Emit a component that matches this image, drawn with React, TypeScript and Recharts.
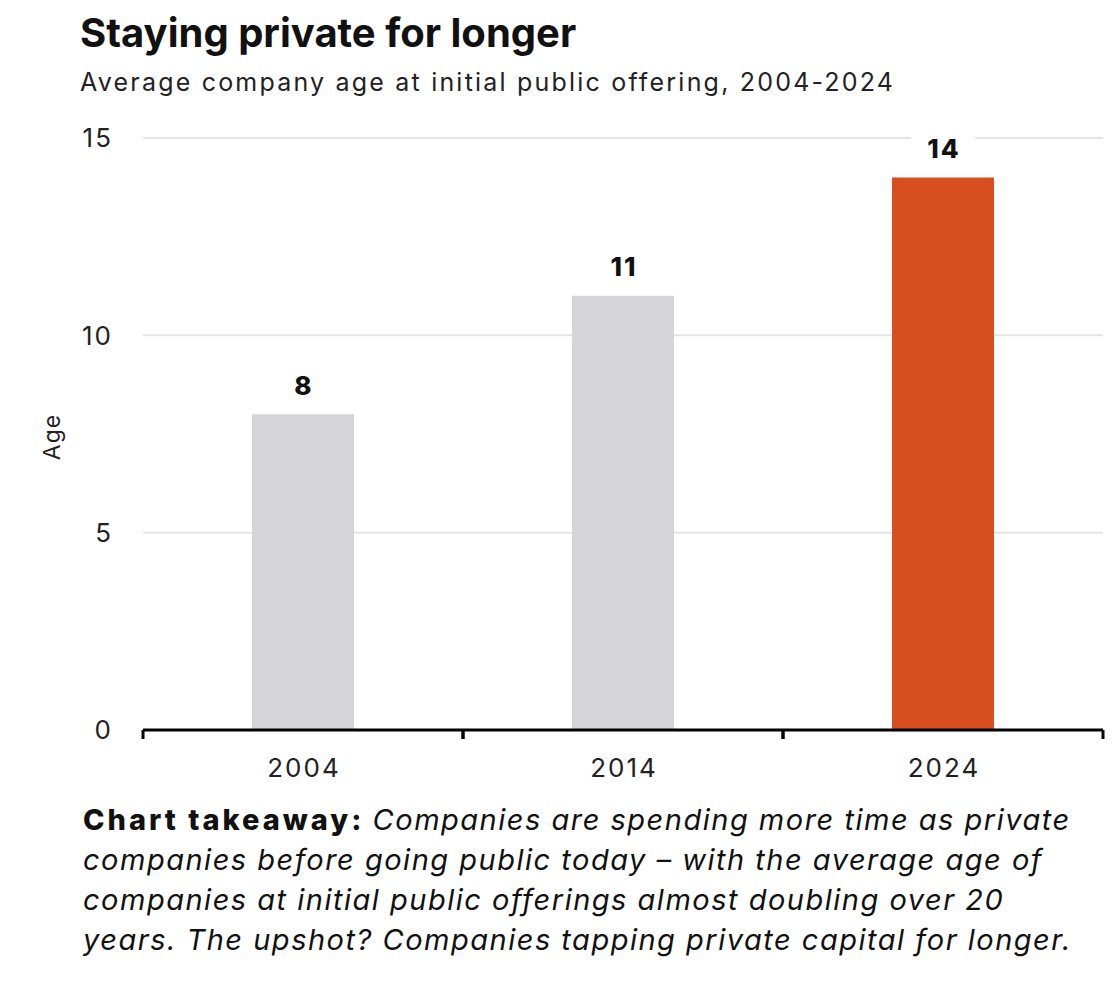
import { Bar, BarChart, CartesianGrid, Cell, LabelList, XAxis, YAxis } from 'recharts';

const years = ['2004', '2014', '2024'];
const avgAge = [8, 11, 14];
const yTicks = [0, 5, 10, 15];

const data = years.map((year, i) => ({ year, age: avgAge[i] }));

const BAR_COLORS = ['#d5d5d9', '#d5d5d9', '#d84f1f'];
const FONT = 'Inter, "Noto Sans", sans-serif';
const TEXT = '#222';

const TICK_SIZE = 8;
const TICK_MARGIN = 20;

// label under each band plus tick marks on the band edges
function YearTick(props: any) {
  const { x, y, payload } = props;
  const half = payload?.offset ?? 160;
  const axisY = y - TICK_SIZE - TICK_MARGIN;
  return (
    <g>
      <line x1={x - half} x2={x - half} y1={axisY} y2={axisY + 9} stroke="#000" strokeWidth={3} />
      <line x1={x + half} x2={x + half} y1={axisY} y2={axisY + 9} stroke="#000" strokeWidth={3} />
      <text x={x + 1} y={y} dy="0.72em" textAnchor="middle" fontSize={26} letterSpacing={2} fill={TEXT} fontFamily={FONT}>
        {payload.value}
      </text>
    </g>
  );
}

function ValueLabel(props: any) {
  const { x, y, width, value } = props;
  const cx = x + width / 2;
  const cy = y - 29;
  return (
    <g>
      <rect x={cx - 32} y={cy - 15} width={64} height={30} fill="#fff" />
      <text x={cx + 1} y={cy} dy="0.36em" textAnchor="middle" fontSize={26} fontWeight={800} letterSpacing={2} fill="#111" fontFamily={FONT}>
        {value}
      </text>
    </g>
  );
}

export default function App() {
  return (
    <div style={{ position: 'absolute', left: 0, top: 0, width: 1120, height: 990, background: '#fff', fontFamily: FONT, color: '#111' }}>
      <div style={{ position: 'absolute', left: 80, top: 8, fontSize: 40, fontWeight: 700, whiteSpace: 'nowrap' }}>
        Staying private for longer
      </div>
      <div style={{ position: 'absolute', left: 80, top: 67, fontSize: 25, letterSpacing: 2.2, color: TEXT, whiteSpace: 'nowrap' }}>
        Average company age at initial public offering, 2004-2024
      </div>

      <div style={{ position: 'absolute', left: 0, top: 0 }}>
        <BarChart
          width={1120}
          height={990}
          data={data}
          margin={{ top: 138, right: 17, left: 0, bottom: 220 }}
          barSize={102}
        >
          <CartesianGrid vertical={false} stroke="#e4e4e4" strokeWidth={2} />
          <XAxis
            dataKey="year"
            height={40}
            axisLine={{ stroke: '#000', strokeWidth: 3 }}
            tickLine={false}
            tickSize={TICK_SIZE}
            tickMargin={TICK_MARGIN}
            tick={<YearTick />}
            interval={0}
          />
          <YAxis
            width={143}
            domain={[0, 15]}
            ticks={yTicks}
            axisLine={false}
            tickLine={false}
            tickSize={0}
            tickMargin={30}
            tick={{ fontSize: 26, fill: TEXT, fontFamily: FONT, letterSpacing: 2 }}
            label={{ value: 'Age', angle: -90, position: 'center', dx: -20, dy: 3, fontSize: 23, fill: TEXT, fontFamily: FONT, letterSpacing: 1 }}
          />
          <Bar dataKey="age" isAnimationActive={false}>
            {data.map((d, i) => (
              <Cell key={d.year} fill={BAR_COLORS[i]} />
            ))}
            <LabelList dataKey="age" content={<ValueLabel />} />
          </Bar>
        </BarChart>
      </div>

      <div style={{ position: 'absolute', left: 83, top: 800, fontSize: 29, lineHeight: '40px', whiteSpace: 'nowrap' }}>
        <span style={{ fontWeight: 800, letterSpacing: 3 }}>Chart takeaway:</span>{' '}
        <span style={{ fontStyle: 'italic', letterSpacing: 1.5 }}>
          Companies are spending more time as private
          <br />
          companies before going public today – with the average age of
          <br />
          companies at initial public offerings almost doubling over 20
          <br />
          years. The upshot? Companies tapping private capital for longer.
        </span>
      </div>
    </div>
  );
}
